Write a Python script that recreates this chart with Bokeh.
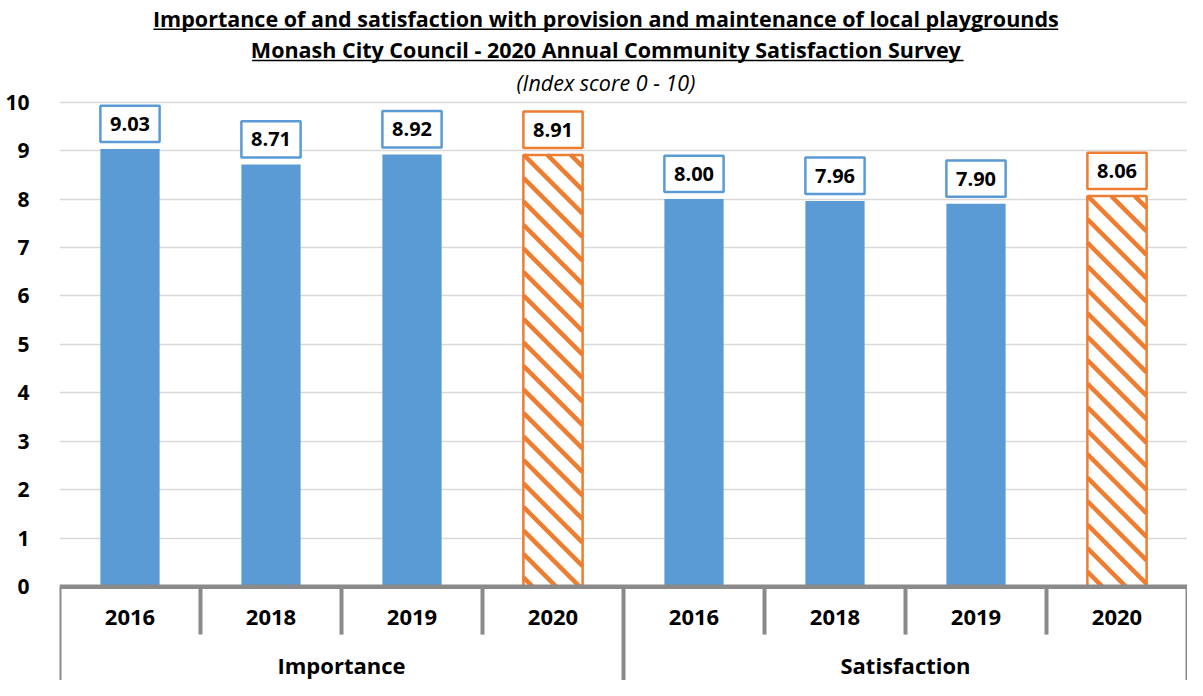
from bokeh.plotting import figure
from bokeh.models import ColumnDataSource, FixedTicker, Range1d
from bokeh.core.properties import value
from bokeh.embed import file_html
from bokeh.resources import INLINE

# ---- data ----
groups = ["Importance", "Satisfaction"]
years = ["2016", "2018", "2019", "2020"]
importance = [9.03, 8.71, 8.92, 8.91]
satisfaction = [8.00, 7.96, 7.90, 8.06]
title_lines = [
    "Importance of and satisfaction with provision and maintenance of local playgrounds",
    "Monash City Council - 2020 Annual Community Satisfaction Survey",
]
subtitle = "(Index score 0 - 10)"
y_ticks = list(range(0, 11))

# ---- style ----
BLUE = "#5B9BD5"
ORANGE = "#ED7D31"
GRAY = "#8A8A8A"
GRID = "#D9D9D9"
FONT = "Open Sans"

W, H = 1187, 680
KX, KY = W / 1203, H / 696      # reference-pixel -> figure-pixel
LEFT = 59
PX_Y = (600 - 104) * KY / 10    # pixels per y unit
ZERO_TOP = 600 * KY             # pixel distance of y=0 from top of figure
y_end = ZERO_TOP / PX_Y
y_start = -(H - ZERO_TOP) / PX_Y
n_cat = len(groups) * len(years)
PX_X = (W - LEFT) / n_cat
HATCH_GAP = 23.5                # horizontal px between hatch stripes


def sx(px):   # reference screen x -> data x
    return (px * KX - LEFT) / PX_X


def sy(py):   # reference screen y -> data y
    return (ZERO_TOP - py * KY) / PX_Y


p = figure(width=W, height=H, x_range=Range1d(0, n_cat), y_range=Range1d(y_start, y_end),
           output_backend="svg", toolbar_location=None, x_axis_location=None,
           min_border_left=LEFT, min_border_right=0, min_border_top=0, min_border_bottom=0)
p.outline_line_color = None
p.xgrid.visible = False
p.yaxis.ticker = FixedTicker(ticks=y_ticks)
p.yaxis.axis_line_color = None
p.yaxis.major_tick_line_color = None
p.yaxis.minor_tick_line_color = None
p.yaxis.major_label_text_font = FONT
p.yaxis.major_label_text_font_size = "21px"
p.yaxis.major_label_text_font_style = "bold"
p.yaxis.major_label_text_color = "black"
p.yaxis.major_label_standoff = 24
p.ygrid.ticker = FixedTicker(ticks=y_ticks[1:])
p.ygrid.grid_line_color = GRID
p.ygrid.grid_line_width = 1.5

# ---- bars ----
vals, xs, yrs, grps = [], [], [], []
for gi, (g, series) in enumerate(zip(groups, [importance, satisfaction])):
    for yi, (yr, v) in enumerate(zip(years, series)):
        vals.append(v)
        xs.append(gi * len(years) + yi + 0.5)
        yrs.append(yr)
        grps.append(g)

latest = years[-1]
blue_src = ColumnDataSource(dict(
    x=[x for x, y in zip(xs, yrs) if y != latest],
    top=[v for v, y in zip(vals, yrs) if y != latest]))
orange_src = ColumnDataSource(dict(
    x=[x for x, y in zip(xs, yrs) if y == latest],
    top=[v for v, y in zip(vals, yrs) if y == latest]))

BAR_W = 0.42
p.vbar(x="x", top="top", bottom=0, width=BAR_W, source=blue_src, fill_color=BLUE, line_color=None)
p.vbar(x="x", top="top", bottom=0, width=BAR_W, source=orange_src, fill_color="white",
       line_color=None)

# 45-degree "\" stripes inside each hatched bar, clipped to the bar
hx0, hy0, hx1, hy1 = [], [], [], []
for x, top in zip(orange_src.data["x"], orange_src.data["top"]):
    left = x - BAR_W / 2
    w_px = BAR_W * PX_X
    h_px = top * PX_Y
    c = -w_px + HATCH_GAP / 2
    while c < h_px:
        u0 = max(0.0, -c)
        u1 = min(w_px, h_px - c)
        if u1 > u0:
            hx0.append(left + u0 / PX_X)
            hy0.append(top - (u0 + c) / PX_Y)
            hx1.append(left + u1 / PX_X)
            hy1.append(top - (u1 + c) / PX_Y)
        c += HATCH_GAP
p.segment(x0=hx0, y0=hy0, x1=hx1, y1=hy1, line_color=ORANGE, line_width=4.5)
p.vbar(x="x", top="top", bottom=0, width=BAR_W, source=orange_src, fill_color=None,
       line_color=ORANGE, line_width=2.5)

# ---- value label boxes ----
lab_src = ColumnDataSource(dict(
    x=xs, y=[v + 0.52 for v in vals], text=[f"{v:.2f}" for v in vals],
    col=[ORANGE if y == latest else BLUE for y in yrs]))
p.rect(x="x", y="y", width=BAR_W, height=0.75, source=lab_src, fill_color="white",
       line_color="col", line_width=2.5)
p.text(x="x", y="y", text="text", source=lab_src, text_align="center", text_baseline="middle",
       text_font=value(FONT), text_font_size="20px", text_font_style="bold", text_color="black")

# ---- category axis (Excel-style) ----
p.segment(x0=[0], y0=[0], x1=[n_cat], y1=[0], line_color=GRAY, line_width=4.5)
sep_x = list(range(n_cat + 1))
sep_y1 = [y_start if k % len(years) == 0 else sy(649) for k in sep_x]
p.segment(x0=sep_x, y0=[0] * len(sep_x), x1=sep_x, y1=sep_y1, line_color=GRAY, line_width=4)

p.text(x=xs, y=[sy(632)] * len(xs), text=yrs, text_align="center", text_baseline="middle",
       text_font=value(FONT), text_font_size="22px", text_font_style="bold", text_color="black")
g_x = [gi * len(years) + len(years) / 2 for gi in range(len(groups))]
p.text(x=g_x, y=[sy(680)] * len(groups), text=groups, text_align="center", text_baseline="middle",
       text_font=value(FONT), text_font_size="22px", text_font_style="bold", text_color="black")

# ---- titles ----
cx = sx(613.5)
p.text(x=[cx, cx], y=[sy(18.5), sy(50.5)], text=title_lines, text_align="center",
       text_baseline="middle", text_font=value(FONT), text_font_size="21.5px",
       text_font_style="bold", text_color="black")
p.segment(x0=[sx(155), sx(255)], y0=[sy(29.5), sy(61.5)], x1=[sx(1072), sx(976)],
          y1=[sy(29.5), sy(61.5)], line_color="black", line_width=1.5)
p.text(x=[cx], y=[sy(84)], text=[subtitle], text_align="center", text_baseline="middle",
       text_font=value(FONT), text_font_size="21.5px", text_font_style="italic", text_color="black")

open("out.html", "w").write(file_html(p, INLINE))
